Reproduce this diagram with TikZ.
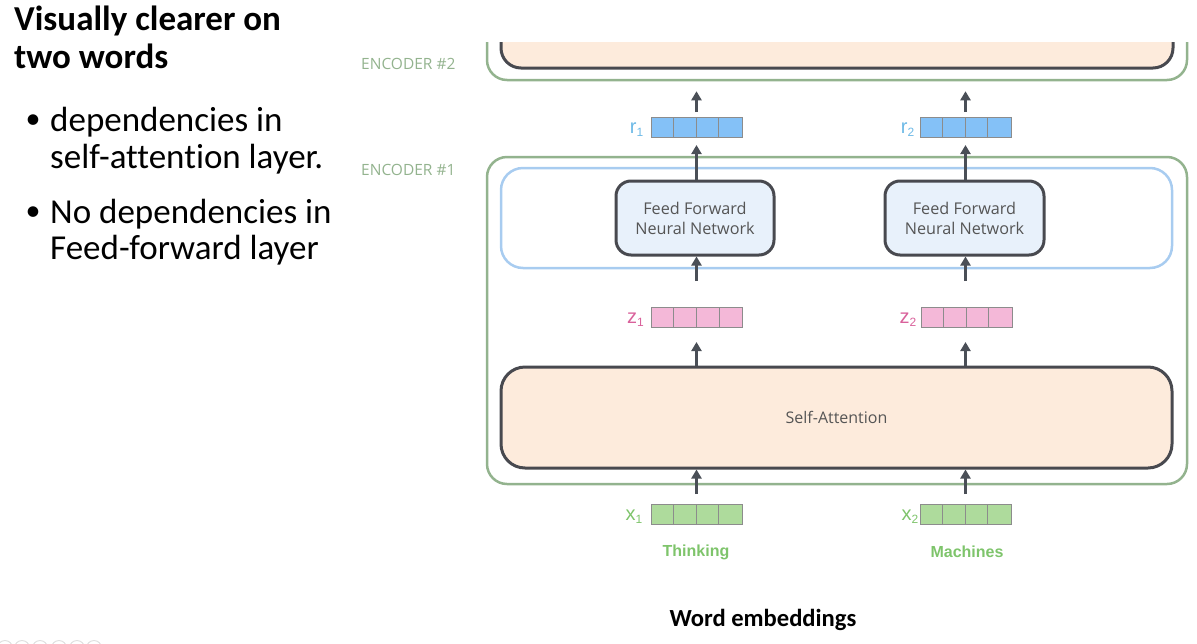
\documentclass[tikz,border=0pt]{standalone}
\usepackage{fontspec}
\setmainfont[Ligatures={NoCommon}]{Carlito}
\newfontfamily\osans{Open Sans}
\newfontfamily\arialf{Liberation Sans}
\usetikzlibrary{arrows.meta}
\definecolor{encgreen}{HTML}{93B38E}
\definecolor{layblue}{HTML}{A8CCF0}
\definecolor{darkst}{HTML}{48494F}
\definecolor{ffnfill}{HTML}{E8F1FB}
\definecolor{peach}{HTML}{FDEBDC}
\definecolor{rfill}{HTML}{84C1F7}
\definecolor{zfill}{HTML}{F4B8D8}
\definecolor{xfill}{HTML}{AEDB9C}
\definecolor{vecst}{HTML}{8C8C8C}
\definecolor{rlab}{HTML}{6DB9E6}
\definecolor{zlab}{HTML}{D9619B}
\definecolor{xlab}{HTML}{7EC46B}
\definecolor{arrc}{HTML}{4A4F57}
\definecolor{boxtext}{HTML}{555555}
\tikzset{
  encbox/.style={draw=encgreen, line width=2.5pt, rounded corners=20pt, inner sep=0pt},
  laybox/.style={draw=layblue, line width=2.5pt, rounded corners=22pt, inner sep=0pt},
  darkbox/.style={draw=darkst, line width=3pt, rounded corners=24pt, inner sep=0pt},
  ffnbox/.style={draw=darkst, line width=3pt, fill=ffnfill, rounded corners=15pt, inner sep=0pt,
     minimum width=158pt, minimum height=74pt, align=center, text=boxtext,
     font=\osans\fontsize{16.2}{20}\selectfont},
  vecbox/.style={draw=vecst, line width=1pt, inner sep=0pt, minimum width=91pt, minimum height=20pt},
  veclab/.style={anchor=east, inner sep=0pt, font=\arialf\fontsize{20}{20}\selectfont},
  arr/.style={draw=arrc, line width=2.5pt, -{Triangle[length=9pt,width=10pt]}},
  enclab/.style={anchor=west, inner sep=0pt, text=encgreen, font=\osans\fontsize{15.5}{16}\selectfont},
  wordlab/.style={inner sep=0pt, text=xlab, font=\arialf\bfseries\fontsize{16}{16}\selectfont},
  titletext/.style={anchor=base west, inner sep=0pt, font=\bfseries\fontsize{35}{36}\selectfont},
  bultext/.style={anchor=base west, inner sep=0pt, font=\fontsize{35}{36}\selectfont},
}
\newcommand{\embvec}[4]{%
  \node[vecbox, fill=#4] (#1) at (#2,#3) {};
  \foreach \i in {1,2,3}
    \draw[vecst, line width=1pt] ([xshift=\i*22.75pt]#1.south west) -- ([xshift=\i*22.75pt]#1.north west);
}
\newcommand{\vsub}[1]{\raisebox{-2.5pt}{\fontsize{12}{12}\selectfont #1}}
\begin{document}
\begin{tikzpicture}[x=1pt,y=-1pt]
\useasboundingbox (0,0) rectangle (1197,643);
\clip (0,0) rectangle (1197,643);

% left text
\node[titletext] (t1) at (14,30) {Visually clearer on};
\node[titletext] (t2) at (14,68) {two words};
\node[inner sep=0pt, font=\fontsize{30}{30}\selectfont] (b1) at (33,122) {•};
\node[bultext] (l1) at (50,131) {dependencies in};
\node[bultext] (l2) at (50,168) {self-attention layer.};
\node[inner sep=0pt, font=\fontsize{30}{30}\selectfont] (b2) at (33,214) {•};
\node[bultext] (l3) at (50,223) {No dependencies in};
\node[bultext] (l4) at (50,259) {Feed-forward layer};

% encoder labels
\node[enclab] (e2lab) at (361,64) {ENCODER \#2};
\node[enclab] (e1lab) at (361,170) {ENCODER \#1};

% encoder 2 (cut at top)
\begin{scope}
\clip (470,42) rectangle (1197,100);
\node[encbox, minimum width=700pt, minimum height=100pt] (enc2) at (837,30) {};
\node[darkbox, fill=peach, rounded corners=20pt, minimum width=672pt, minimum height=88pt] (enc2in) at (837,24) {};
\end{scope}

% encoder 1
\node[encbox, minimum width=700pt, minimum height=327pt] (enc1) at (837,320.5) {};
\node[laybox, minimum width=671pt, minimum height=100pt] (ffl) at (836.5,218) {};
\node[darkbox, fill=peach, minimum width=671pt, minimum height=101pt, text=boxtext,
      font=\osans\fontsize{16}{16}\selectfont] (sa) at (836.5,417.5) {Self-Attention};
\node[ffnbox] (ffn1) at (695,218) {Feed Forward\\Neural Network};
\node[ffnbox, minimum width=159pt] (ffn2) at (964.5,218) {Feed Forward\\Neural Network};

% vectors
\embvec{r1}{696.5}{127.5}{rfill}
\embvec{r2}{965.5}{127.5}{rfill}
\embvec{z1}{697}{317.5}{zfill}
\embvec{z2}{966.5}{317.5}{zfill}
\embvec{x1}{696.5}{514.5}{xfill}
\embvec{x2}{965.5}{514.5}{xfill}

\node[veclab, text=rlab] (r1lab) at ([xshift=-7pt,yshift=-2pt]r1.west) {r\vsub{1}};
\node[veclab, text=rlab] (r2lab) at ([xshift=-5pt,yshift=-2pt]r2.west) {r\vsub{2}};
\node[veclab, text=zlab] (z1lab) at ([xshift=-7pt,yshift=-2pt]z1.west) {z\vsub{1}};
\node[veclab, text=zlab] (z2lab) at ([xshift=-4pt,yshift=-2pt]z2.west) {z\vsub{2}};
\node[veclab, text=xlab] (x1lab) at ([xshift=-8pt,yshift=-2pt]x1.west) {x\vsub{1}};
\node[veclab, text=xlab] (x2lab) at ([xshift=-1pt,yshift=-2pt]x2.west) {x\vsub{2}};

% arrows
\foreach \c/\f in {1/ffn1, 2/ffn2} {
  \draw[arr, shorten <=10pt] (x\c.north) -- (x\c.north |- sa.south);
  \draw[arr, shorten >=14pt] (x\c.north |- sa.north) -- (z\c.south -| x\c.north);
  \draw[arr, shorten <=26pt] (z\c.north -| x\c.north) -- (x\c.north |- \f.south);
  \draw[arr, shorten >=7pt] (x\c.north |- \f.north) -- (r\c.south -| x\c.north);
  \draw[arr, shorten <=5pt, shorten >=10pt] (r\c.north -| x\c.north) -- (x\c.north |- enc2.south);
}

% words
\node[wordlab] (think) at (696,552) {Thinking};
\node[wordlab] (mach) at (967,552) {Machines};
\node[inner sep=0pt, font=\bfseries\fontsize{24.6}{24}\selectfont] (we) at (763,620) {Word embeddings};

% faint slide-navigation circles
\foreach \cx in {5,22,40,59,77,94}
  \draw[black!12, line width=1pt] (\cx,648) circle (7.5);
\end{tikzpicture}
\end{document}
